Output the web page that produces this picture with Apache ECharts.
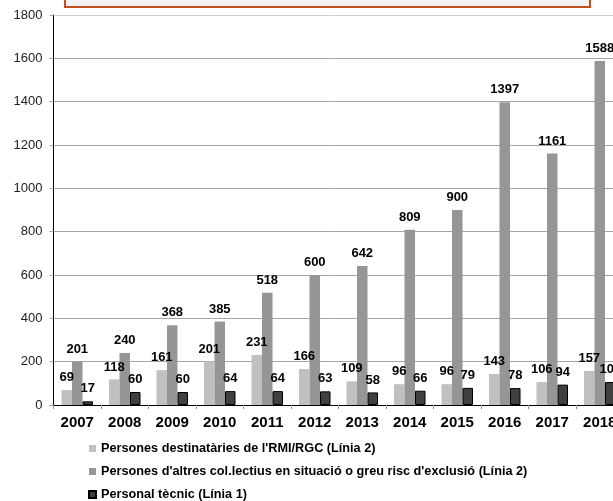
<!DOCTYPE html>
<html><head><meta charset="utf-8">
<script src="https://cdn.jsdelivr.net/npm/echarts@6/dist/echarts.min.js"></script>
<style>html,body{margin:0;padding:0;background:#fff}#c{width:613px;height:501px}</style>
</head><body><div id="c"></div>
<script>
const categories = ['2007','2008','2009','2010','2011','2012','2013','2014','2015','2016','2017','2018'];
const seriesNames = [
  "Persones destinatàries de l'RMI/RGC (Línia 2)",
  "Persones d'altres col.lectius en situació o greu risc d'exclusió (Línia 2)",
  "Personal tècnic (Línia 1)"
];
const rmiValues = [69,118,161,201,231,166,109,96,96,143,106,157];
const altresValues = [201,240,368,385,518,600,642,809,900,1397,1161,1588];
const tecnicValues = [17,60,60,64,64,63,58,66,79,78,94,106];
const yTicks = {min:0, max:1800, interval:200};

const font = 'Liberation Sans, Arial, sans-serif';
const chart = echarts.init(document.getElementById('c'), null, {renderer:'canvas'});
const label = {show:true, position:'top', distance:6, color:'#000', fontWeight:'bold', fontSize:13, fontFamily:font};
chart.setOption({
  backgroundColor:'#fff',
  animation:false,
  graphic:[{type:'rect', shape:{x:65, y:-12, width:525, height:19}, style:{fill:'#f2f2f2', stroke:'#c0501f', lineWidth:2}}],
  grid:{left:53.5, top:15, width:570, height:390, outerBoundsMode:'none', containLabel:false},
  legend:{
    orient:'vertical', left:83, top:437, height:120, itemWidth:7, itemHeight:7, itemGap:10,
    textStyle:{fontFamily:font, fontWeight:'bold', fontSize:12.7, color:'#000'},
    data:seriesNames.map((n,i)=>({name:n, icon:'rect'}))
  },
  xAxis:{
    type:'category', data:categories,
    axisLine:{lineStyle:{color:'#000', width:1}},
    axisTick:{show:true, length:4, lineStyle:{color:'#999'}},
    axisLabel:{color:'#000', fontWeight:'bold', fontSize:15, fontFamily:font, margin:10}
  },
  yAxis:{
    type:'value', min:yTicks.min, max:yTicks.max, interval:yTicks.interval,
    axisLine:{show:true, lineStyle:{color:'#000', width:1}},
    axisTick:{show:true, length:4, lineStyle:{color:'#aaa'}},
    axisLabel:{color:'#222', fontSize:13, fontFamily:font, margin:11, formatter:v=>String(v)},
    splitLine:{lineStyle:{color:['#a6a6a6','#a6a6a6','#a6a6a6','#a6a6a6','#a6a6a6','#a6a6a6','#a6a6a6','#a6a6a6','#a6a6a6','#d0d0d0'], width:1}}
  },
  series:[
    {name:seriesNames[0], type:'bar', data:rmiValues, barWidth:10.5, barGap:'0%', itemStyle:{color:'#c0c0c0'}, label:label},
    {name:seriesNames[1], type:'bar', data:altresValues, barWidth:10.5, barGap:'0%', itemStyle:{color:'#969696'}, label:label},
    {name:seriesNames[2], type:'bar', data:tecnicValues, barWidth:10.5, barGap:'0%', itemStyle:{color:'#404040', borderColor:'#000', borderWidth:1}, label:label}
  ]
});
</script></body></html>
